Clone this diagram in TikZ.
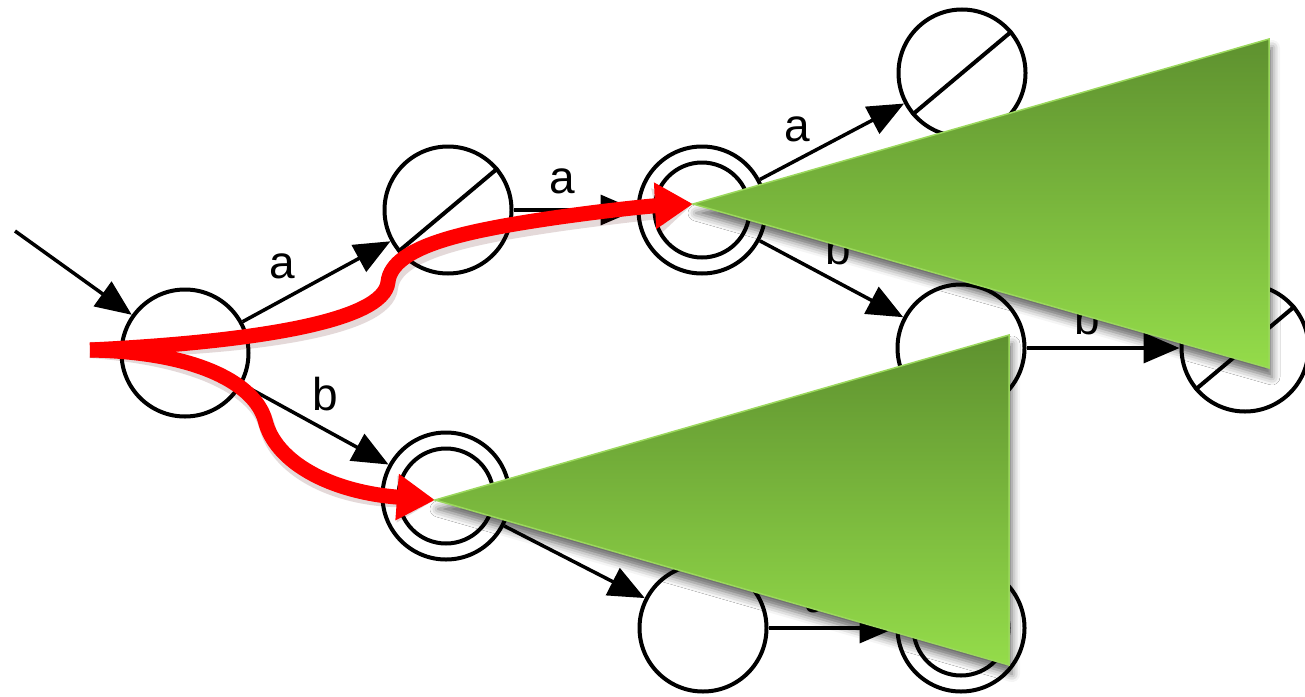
\documentclass[tikz,border=0pt]{standalone}
\usepackage{fontspec}
\setmainfont{Liberation Sans}
\usetikzlibrary{arrows.meta,shadows.blur}
\definecolor{gtop}{HTML}{5E912F}
\definecolor{gbot}{HTML}{94DC4A}
\definecolor{gedge}{HTML}{9BD85C}
\begin{document}
\begin{tikzpicture}[x=1pt,y=-1pt,
  state/.style={circle,draw,line width=4pt,minimum size=127pt,inner sep=0pt,fill=white},
  trans/.style={draw,line width=3.5pt,-{Triangle[length=36pt,width=30pt]}},
  lab/.style={font=\fontsize{46}{50}\selectfont,inner sep=0pt},
  redpath/.style={draw=red,line width=15pt,-{Triangle[length=38pt,width=44pt]}},
  redshade/.style={draw=black!70!red,line width=16pt,opacity=0.15,-{Triangle[length=38pt,width=44pt]}},
  wedge/.style={top color=gtop,bottom color=gbot,draw=gedge,line width=1.5pt,
    blur shadow={shadow xshift=3pt,shadow yshift=-9pt,shadow blur radius=8pt,shadow opacity=60}}
]
\useasboundingbox (0,0) rectangle (1305,696);
% states
\node[state] (s) at (185,353) {};
\node[state] (A) at (448,210) {};
\node[state] (B) at (702,210) {};
\node[state] (T) at (962,73) {};
\node[state] (M) at (961,348) {};
\node[state] (R) at (1245,348) {};
\node[state] (C) at (446,496) {};
\node[state] (D) at (703,628) {};
\node[state] (E) at (961,628) {};
% accepting inner circles
\draw[line width=4pt] (B) circle[radius=47.5pt];
\draw[line width=4pt] (C) circle[radius=47.5pt];
\draw[line width=4pt] (E) circle[radius=47.5pt];
% dead-state slashes
\draw[line width=4pt] (A.40) -- (A.220);
\draw[line width=4pt] (T.40) -- (T.220);
\draw[line width=4pt] (R.40) -- (R.220);
% transitions
\coordinate (init) at (15,231);
\draw[trans] (init) -- (s);
\draw[trans] (s) -- (A);
\draw[trans] (s) -- (C);
\draw[trans] (A) -- (B);
\draw[trans] (B) -- (T);
\draw[trans] (B) -- (M);
\draw[trans] (M) -- (R);
\draw[trans] (C) -- (D);
\draw[trans] (D) -- (E);
% labels
\node[lab] (l1) at (282,266) {a};
\node[lab] (l2) at (325,394) {b};
\node[lab] (l3) at (562,181) {a};
\node[lab] (l4) at (797,129) {a};
\node[lab] (l5) at (838,248) {b};
\node[lab] (l6) at (1087,318) {b};
\node[lab] (l7) at (588,526) {b};
\node[lab] (l8) at (817,600) {a};
% red paths
\coordinate (p0) at (90,350);
\coordinate (p1) at (693,204);
\coordinate (p2) at (435,500);
\begin{scope}[shift={(2,6)}]
\draw[redshade] (p0) .. controls (250,342) and (384,322) .. (388,282) .. controls (392,245) and (470,230) .. (560,217) .. controls (610,210) and (650,206) .. (p1);
\draw[redshade] (p0) .. controls (200,352) and (255,385) .. (265,420) .. controls (275,462) and (330,492) .. (p2);
\end{scope}
\draw[redpath] (p0) .. controls (250,342) and (384,322) .. (388,282) .. controls (392,245) and (470,230) .. (560,217) .. controls (610,210) and (650,206) .. (p1);
\draw[redpath] (p0) .. controls (200,352) and (255,385) .. (265,420) .. controls (275,462) and (330,492) .. (p2);
% green wedges
\path[wedge] (p1) -- (1269,39) -- (1269,368) -- cycle;
\path[wedge] (p2) -- (1009,335) -- (1009,665) -- cycle;
\end{tikzpicture}
\end{document}
